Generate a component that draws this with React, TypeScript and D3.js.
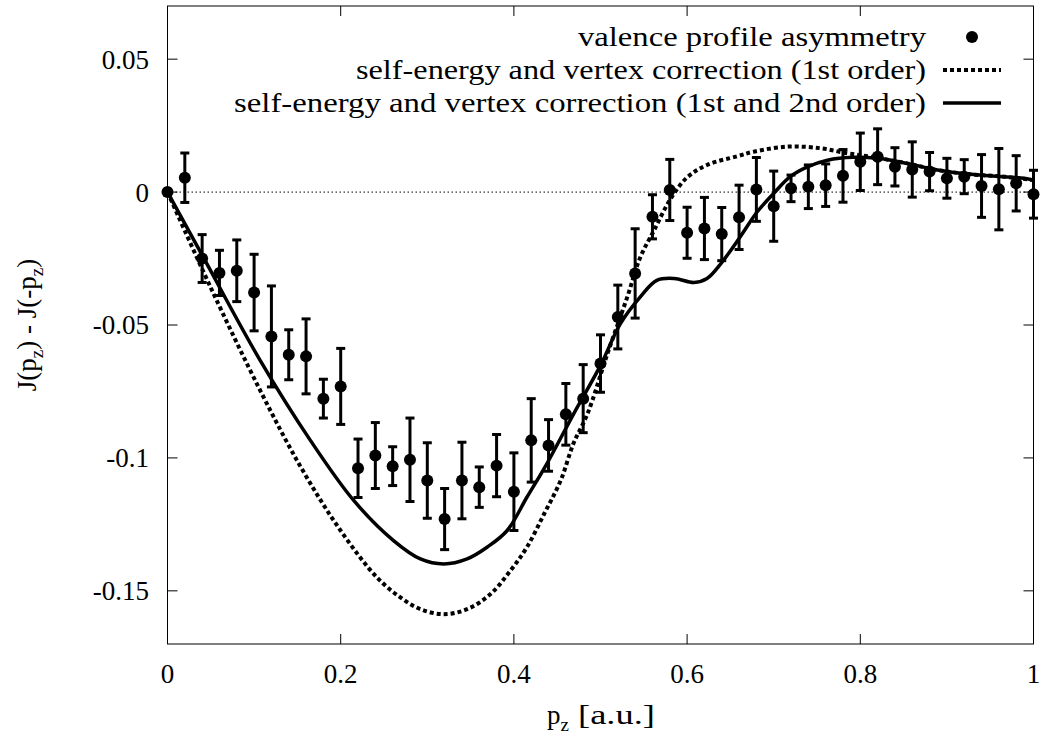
import React from "react";
import * as d3 from "d3";

const pz = [0, 0.02, 0.04, 0.06, 0.08, 0.1, 0.12, 0.14, 0.16, 0.18, 0.2, 0.22, 0.24, 0.26, 0.28, 0.3, 0.32, 0.34, 0.36, 0.38, 0.4, 0.42, 0.44, 0.46, 0.48, 0.5, 0.52, 0.54, 0.56, 0.58, 0.6, 0.62, 0.64, 0.66, 0.68, 0.7, 0.72, 0.74, 0.76, 0.78, 0.8, 0.82, 0.84, 0.86, 0.88, 0.9, 0.92, 0.94, 0.96, 0.98, 1.0];
const asymmetry = [0, 0.0054, -0.025, -0.0304, -0.0296, -0.0378, -0.0543, -0.0612, -0.0618, -0.0777, -0.0731, -0.1039, -0.0991, -0.1031, -0.1007, -0.1085, -0.123, -0.1085, -0.111, -0.1029, -0.1127, -0.0934, -0.0953, -0.0836, -0.0777, -0.0645, -0.047, -0.0306, -0.0093, 0.0008, -0.0153, -0.0137, -0.0158, -0.0095, 0.001, -0.0053, 0.0014, 0.002, 0.0026, 0.0061, 0.0114, 0.0133, 0.0095, 0.0085, 0.0077, 0.0052, 0.0058, 0.0023, 0.0011, 0.0033, -0.0008];
const asymmetryErr = [0, 0.0093, 0.009, 0.0085, 0.0116, 0.0144, 0.019, 0.0094, 0.0141, 0.0073, 0.0143, 0.011, 0.0124, 0.0073, 0.0157, 0.0142, 0.0115, 0.0144, 0.0076, 0.0117, 0.0146, 0.0157, 0.0097, 0.0116, 0.0128, 0.0108, 0.012, 0.0168, 0.0083, 0.0115, 0.0096, 0.0117, 0.01, 0.0121, 0.012, 0.0132, 0.005, 0.0082, 0.008, 0.0099, 0.0108, 0.0105, 0.0072, 0.0104, 0.0072, 0.0075, 0.0064, 0.0118, 0.0153, 0.0104, 0.009];

const firstOrderX = [0, 0.05, 0.107, 0.154, 0.2, 0.242, 0.269, 0.292, 0.319, 0.346, 0.373, 0.396, 0.415, 0.435, 0.454, 0.469, 0.485, 0.508, 0.531, 0.546, 0.562, 0.581, 0.6, 0.623, 0.658, 0.677, 0.716, 0.754, 0.785, 0.812, 0.854, 0.889, 0.927, 0.966, 1.0];
const firstOrderY = [0, -0.036, -0.0746, -0.1035, -0.1274, -0.145, -0.1525, -0.1569, -0.1588, -0.1569, -0.1512, -0.1424, -0.1336, -0.121, -0.1085, -0.0944, -0.0834, -0.0608, -0.0394, -0.0245, -0.0143, -0.0025, 0.0055, 0.0102, 0.0135, 0.0152, 0.0171, 0.0165, 0.0146, 0.0133, 0.0108, 0.0083, 0.0067, 0.0058, 0.0045];

const secondOrderX = [0, 0.04, 0.107, 0.165, 0.215, 0.261, 0.292, 0.319, 0.346, 0.369, 0.392, 0.415, 0.438, 0.469, 0.5, 0.523, 0.546, 0.565, 0.585, 0.608, 0.623, 0.639, 0.662, 0.681, 0.7, 0.719, 0.739, 0.762, 0.792, 0.82, 0.854, 0.889, 0.927, 0.966, 0.989, 1.0];
const secondOrderY = [0, -0.0237, -0.0633, -0.0934, -0.116, -0.1311, -0.138, -0.1399, -0.138, -0.1336, -0.1274, -0.1148, -0.1022, -0.0834, -0.0652, -0.0495, -0.0394, -0.0332, -0.0325, -0.034, -0.0325, -0.0269, -0.0165, -0.0074, -0.0005, 0.0058, 0.0095, 0.012, 0.0131, 0.0127, 0.0108, 0.0083, 0.0067, 0.0058, 0.0052, 0.0045];

const xTicks = [0, 0.2, 0.4, 0.6, 0.8, 1];
const xTickLabels = ["0", "0.2", "0.4", "0.6", "0.8", "1"];
const yTicks = [0.05, 0, -0.05, -0.1, -0.15];
const yTickLabels = ["0.05", "0", "-0.05", "-0.1", "-0.15"];
const legendLabels = [
  "valence profile asymmetry",
  "self-energy and vertex correction (1st order)",
  "self-energy and vertex correction (1st and 2nd order)",
];
const legendWidths = [348, 570, 692];

const W = 1041;
const H = 738;
const L = 167.5, R = 1033.5, T = 6, B = 644;
const FS = 27;
const FONT = '"Liberation Serif", "Times New Roman", Times, "DejaVu Serif", serif';

export default function App() {
  const x = d3.scaleLinear().domain([0, 1]).range([L, R]);
  const y = d3.scaleLinear().domain([-0.17, 0.07]).range([B, T]);
  const line = d3
    .line<[number, number]>()
    .x((d) => x(d[0]))
    .y((d) => y(d[1]))
    .curve(d3.curveCatmullRom.alpha(0.5));
  const firstPath = line(firstOrderX.map((v, i) => [v, firstOrderY[i]]) as [number, number][]) || "";
  const secondPath = line(secondOrderX.map((v, i) => [v, secondOrderY[i]]) as [number, number][]) || "";
  const tickLen = 10;
  const legendTextX = 926;
  const sampleX1 = 943, sampleX2 = 1001;
  const legendY = [37, 70, 103];

  return (
    <div style={{ position: "absolute", left: 0, top: 0, fontFamily: FONT }}>
      <svg width={W} height={H} style={{ display: "block", background: "#fff" }} fontFamily={FONT}>
        <rect x={0} y={0} width={W} height={H} fill="#fff" />
        <line x1={L} x2={R} y1={y(0)} y2={y(0)} stroke="#000" strokeWidth={1} strokeDasharray="1.5,2.5" />
        {xTicks.map((t, i) => (
          <g key={"xt" + i}>
            <line x1={x(t)} x2={x(t)} y1={B} y2={B - tickLen} stroke="#000" strokeWidth={1} />
            <line x1={x(t)} x2={x(t)} y1={T} y2={T + tickLen} stroke="#000" strokeWidth={1} />
            <text x={x(t)} y={683} fontSize={FS} textAnchor="middle" fill="#000">
              {xTickLabels[i]}
            </text>
          </g>
        ))}
        {yTicks.map((t, i) => (
          <g key={"yt" + i}>
            <line x1={L} x2={L + tickLen} y1={y(t)} y2={y(t)} stroke="#000" strokeWidth={1} />
            <line x1={R} x2={R - tickLen} y1={y(t)} y2={y(t)} stroke="#000" strokeWidth={1} />
            <text x={149} y={y(t)} dy="0.35em" fontSize={FS} textAnchor="end" fill="#000">
              {yTickLabels[i]}
            </text>
          </g>
        ))}
        <path d={firstPath} fill="none" stroke="#000" strokeWidth={4} strokeDasharray="4,3" />
        <path d={secondPath} fill="none" stroke="#000" strokeWidth={3.5} />
        {pz.map((p, i) => {
          const e = asymmetryErr[i];
          const cx = x(p);
          return (
            <g key={"pt" + i}>
              {e > 0 && (
                <g stroke="#000" strokeWidth={3}>
                  <line x1={cx} x2={cx} y1={y(asymmetry[i] - e)} y2={y(asymmetry[i] + e)} />
                  <line x1={cx - 4.5} x2={cx + 4.5} y1={y(asymmetry[i] - e)} y2={y(asymmetry[i] - e)} />
                  <line x1={cx - 4.5} x2={cx + 4.5} y1={y(asymmetry[i] + e)} y2={y(asymmetry[i] + e)} />
                </g>
              )}
              <circle cx={cx} cy={y(asymmetry[i])} r={6} fill="#000" />
            </g>
          );
        })}
        <rect x={L} y={T} width={R - L} height={B - T} fill="none" stroke="#000" strokeWidth={1} />
        {legendLabels.map((lab, i) => (
          <text
            key={"lg" + i}
            x={legendTextX - legendWidths[i]}
            y={legendY[i]}
            dy="0.35em"
            fontSize={FS}
            textLength={legendWidths[i]}
            lengthAdjust="spacingAndGlyphs"
            fill="#000"
          >
            {lab}
          </text>
        ))}
        <circle cx={(sampleX1 + sampleX2) / 2} cy={legendY[0]} r={6} fill="#000" />
        <line x1={sampleX1} x2={sampleX2} y1={legendY[1]} y2={legendY[1]} stroke="#000" strokeWidth={4} strokeDasharray="4,3" />
        <line x1={sampleX1} x2={sampleX2} y1={legendY[2]} y2={legendY[2]} stroke="#000" strokeWidth={3.5} />
        <text x={547} y={724} fontSize={FS} fill="#000">
          p<tspan fontSize={19} dy={7}>z</tspan>
          <tspan dy={-7} textLength={86} lengthAdjust="spacingAndGlyphs"> [a.u.]</tspan>
        </text>
        <text transform={`translate(36, ${(T + B) / 2}) rotate(-90)`} fontSize={FS} textAnchor="middle" fill="#000">
          J(p<tspan fontSize={19} dy={7}>z</tspan>
          <tspan dy={-7}>) - J(-p</tspan>
          <tspan fontSize={19} dy={7}>z</tspan>
          <tspan dy={-7}>)</tspan>
        </text>
      </svg>
    </div>
  );
}
